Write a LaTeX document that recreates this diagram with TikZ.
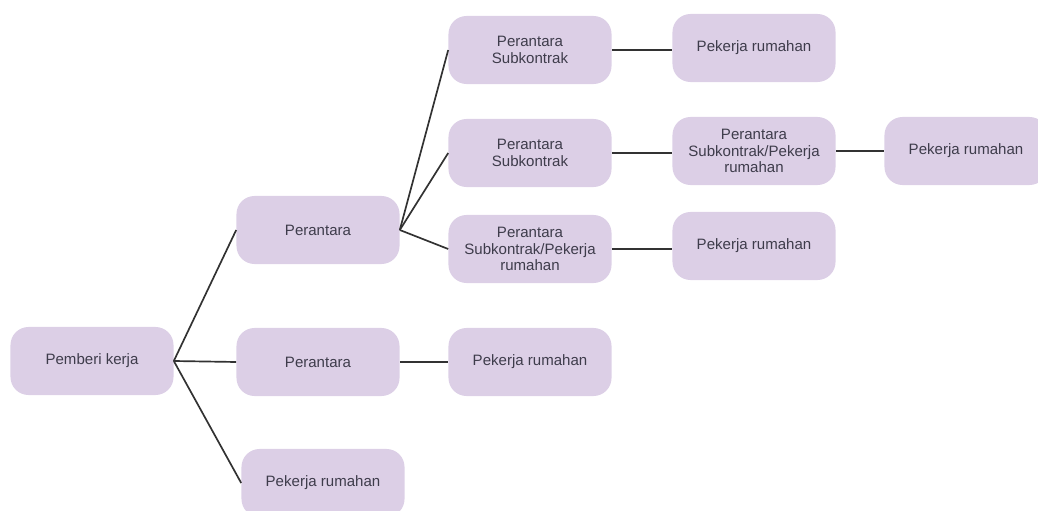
\documentclass[tikz,border=0pt]{standalone}
\usepackage{fontspec}
\setmainfont{Liberation Sans}
\usetikzlibrary{positioning}
\definecolor{boxfill}{RGB}{220,207,230}
\definecolor{boxtext}{RGB}{62,60,75}
\definecolor{linkline}{RGB}{50,50,50}

\begin{document}
\begin{tikzpicture}[x=0.025cm, y=-0.025cm,
		box/.style={fill=boxfill, rounded corners=0.45cm, minimum width=4.075cm, minimum height=1.7cm, align=center, text=boxtext, font=\fontsize{10.7}{12}\selectfont},
		link/.style={draw=linkline, line width=1.2pt}]
					\clip (0, 0) rectangle (1038, 511);
					\node (0) at (92, 361) [box] {Pemberi kerja};
					\node (1) at (318, 230) [box] {Perantara};
					\node (2) at (318, 362) [box] {Perantara};
					\node (3) at (323, 483) [box] {Pekerja rumahan};
					\node (4) at (530, 50) [box] {Perantara\\Subkontrak};
					\node (5) at (530, 153) [box] {Perantara\\Subkontrak};
					\node (6) at (530, 249) [box] {Perantara\\Subkontrak/Pekerja\\rumahan};
					\node (7) at (530, 362) [box] {Pekerja rumahan};
					\node (8) at (754, 48) [box] {Pekerja rumahan};
					\node (9) at (754, 151) [box] {Perantara\\Subkontrak/Pekerja\\rumahan};
					\node (10) at (754, 246) [box] {Pekerja rumahan};
					\node (11) at (966, 151) [box] {Pekerja rumahan};
					
					\draw[link] (0.east) to (1.west);
					\draw[link] (0.east) to (2.west);
					\draw[link] (0.east) to (3.west);
					\draw[link] (1.east) to (4.west);
					\draw[link] (1.east) to (5.west);
					\draw[link] (1.east) to (6.west);
					\draw[link] (2.east) to (7.west);
					\draw[link] (4.east) to (4.east -| 8.west);
					\draw[link] (5.east) to (5.east -| 9.west);
					\draw[link] (6.east) to (6.east -| 10.west);
					\draw[link] (9.east) to (11.west);
				\end{tikzpicture}
\end{document}
